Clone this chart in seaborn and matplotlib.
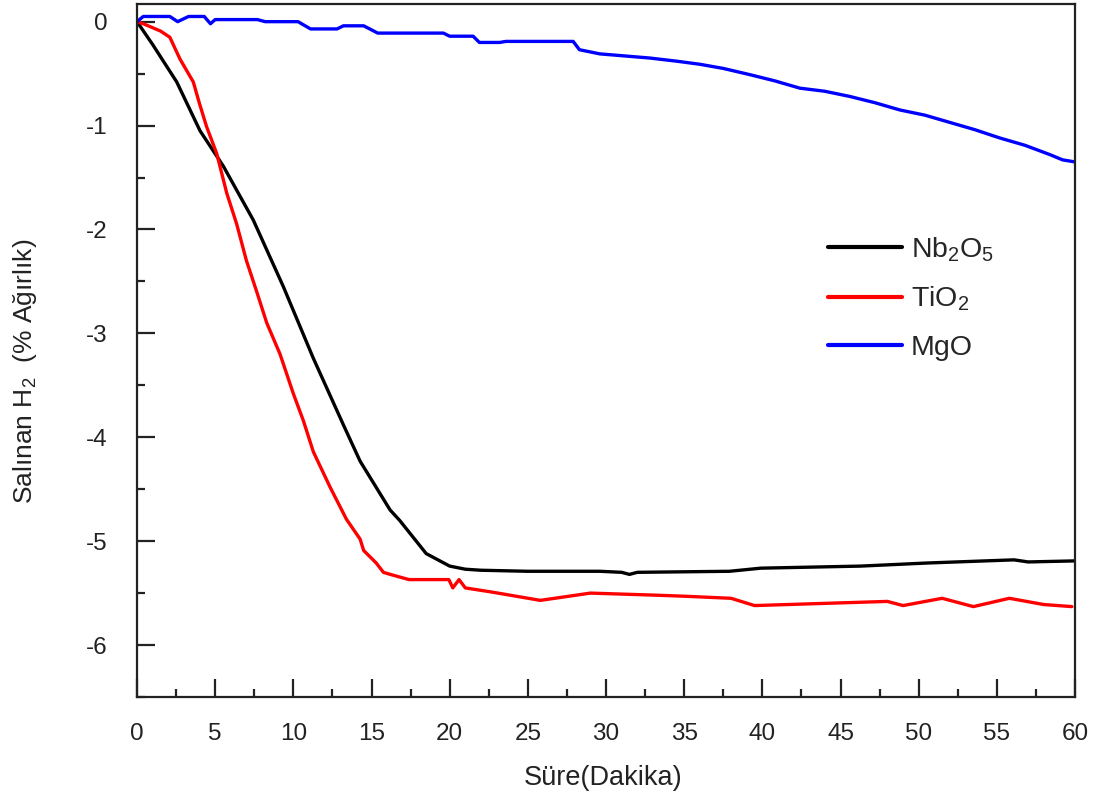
import matplotlib
matplotlib.use('Agg')
import matplotlib.pyplot as plt
from matplotlib.ticker import MultipleLocator
import seaborn as sns

# ---- data ----
nb_t = [0, 1, 2.54, 4.03, 5.52, 7.44, 9.36, 11.28, 13.2, 14.27, 16.19, 16.8, 18.5, 20.0, 21.0,
        22.0, 25, 29.6, 31.0, 31.5, 32.0, 37.9, 39.9, 46.3, 50.6, 56.1, 57, 60]
nb_v = [0, -0.22, -0.58, -1.05, -1.39, -1.91, -2.55, -3.24, -3.88, -4.23, -4.70, -4.80, -5.12, -5.24, -5.27,
        -5.28, -5.29, -5.29, -5.30, -5.32, -5.30, -5.29, -5.26, -5.24, -5.21, -5.18, -5.20, -5.19]

ti_t = [0, 0.4, 1.5, 2.1, 2.75, 3.6, 4.0, 4.45, 5.1, 5.74, 6.38, 7.0, 7.66, 8.3, 9.15, 10.0, 10.64,
        11.28, 12.35, 13.4, 14.27, 14.5, 15.3, 15.76, 16.2, 17.4, 19.95, 20.2, 20.6, 21.0, 22.7, 25.8,
        29.0, 33.2, 35, 38.0, 39.5, 48.0, 49.0, 51.5, 53.5, 55.8, 58.0, 59.8]
ti_v = [0, -0.02, -0.09, -0.15, -0.36, -0.58, -0.79, -1.01, -1.27, -1.65, -1.95, -2.30, -2.60, -2.90,
        -3.20, -3.58, -3.84, -4.14, -4.48, -4.79, -4.98, -5.09, -5.21, -5.30, -5.32, -5.37, -5.37, -5.45,
        -5.37, -5.45, -5.49, -5.57, -5.50, -5.52, -5.53, -5.55, -5.62, -5.58, -5.62, -5.55, -5.63, -5.55,
        -5.61, -5.63]

mg_t = [0, 0.4, 2.1, 2.6, 3.3, 4.3, 4.7, 5.0, 7.7, 8.2, 10.3, 11.1, 12.8, 13.2, 14.5, 15.4, 19.6, 20.0,
        21.5, 21.9, 23.2, 23.6, 27.9, 28.3, 29.6, 32.8, 34.5, 36.0, 37.5, 39.2, 40.8, 42.4, 44.0, 45.6,
        47.2, 48.8, 50.4, 52.0, 53.6, 55.2, 56.8, 58.4, 59.2, 60]
mg_v = [0, 0.05, 0.05, 0, 0.05, 0.05, -0.02, 0.02, 0.02, 0, 0, -0.07, -0.07, -0.04, -0.04, -0.11, -0.11,
        -0.14, -0.14, -0.20, -0.20, -0.19, -0.19, -0.27, -0.31, -0.35, -0.38, -0.41, -0.45, -0.51, -0.57,
        -0.64, -0.67, -0.72, -0.78, -0.85, -0.90, -0.97, -1.04, -1.12, -1.19, -1.28, -1.33, -1.35]

labels = ["Nb$_2$O$_5$", "TiO$_2$", "MgO"]
colors = ["#000000", "#ff0000", "#0000ff"]
x_ticks = [0, 5, 10, 15, 20, 25, 30, 35, 40, 45, 50, 55, 60]
y_ticks = [0, -1, -2, -3, -4, -5, -6]
x_label = "Süre(Dakika)"
y_label = "Salınan H$_2$  (% Ağırlık)"

# ---- style ----
sns.set_theme(style='white')
plt.rcParams['font.family'] = ['Liberation Sans', 'DejaVu Sans']
plt.rcParams['mathtext.fontset'] = 'custom'
plt.rcParams['mathtext.rm'] = 'Liberation Sans'
plt.rcParams['mathtext.it'] = 'Liberation Sans:italic'
plt.rcParams['mathtext.bf'] = 'Liberation Sans:bold'
plt.rcParams['axes.unicode_minus'] = False

fig = plt.figure(figsize=(10.97, 8), dpi=100)
ax = fig.add_axes([137 / 1097, 1 - 697 / 800, (1075 - 137) / 1097, (697 - 4) / 800])

for t, v, lab, c in zip([nb_t, ti_t, mg_t], [nb_v, ti_v, mg_v], labels, colors):
    sns.lineplot(x=t, y=v, color=c, lw=2.4, label=lab, ax=ax, sort=False, estimator=None)

ax.set_xlim(0, 60)
ax.set_ylim(-6.5, 0.17)
ax.set_xticks(x_ticks)
ax.set_yticks(y_ticks)
ax.xaxis.set_minor_locator(MultipleLocator(2.5))
ax.yaxis.set_minor_locator(MultipleLocator(0.5))
ax.tick_params(which='major', direction='in', length=13, width=1.6, color='#222222',
               labelsize=17.5, labelcolor='#222222')
ax.tick_params(axis='x', which='major', pad=19)
ax.tick_params(axis='y', which='major', pad=21)
ax.tick_params(which='minor', direction='in', length=6, width=1.6, color='#222222')
ax.tick_params(bottom=True, left=True, top=False, right=False, which='both')
for s in ax.spines.values():
    s.set_color('#222222')
    s.set_linewidth(1.6)

ax.set_xlabel(x_label, fontsize=19.5, color='#222222')
ax.set_ylabel(y_label, fontsize=19, color='#222222')
ax.xaxis.set_label_coords((603 - 137) / 938, (697 - 778) / 693)
ax.yaxis.set_label_coords((25 - 137) / 938, (697 - 371) / 693)
ax.xaxis.label.set_va('center')
ax.yaxis.label.set_va('center')

leg = ax.legend(loc='center left', bbox_to_anchor=((828 - 137) / 938, (697 - 298) / 693),
                frameon=False, fontsize=20.5, handlelength=2.6, handletextpad=0.3,
                labelspacing=0.75, borderpad=0, borderaxespad=0)
for line in leg.get_lines():
    line.set_linewidth(3)

fig.savefig('out.png', dpi=100)
